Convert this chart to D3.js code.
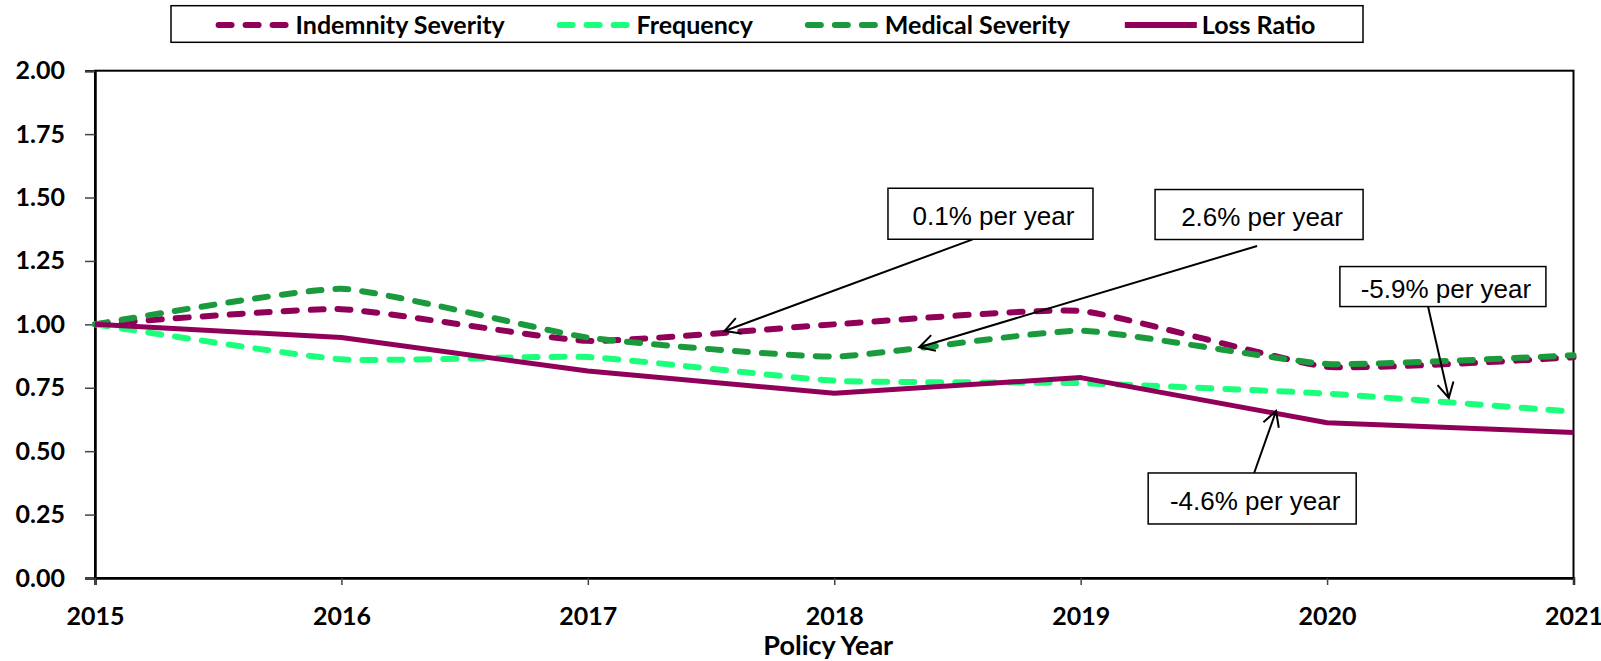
<!DOCTYPE html>
<html>
<head>
<meta charset="utf-8">
<script src="https://cdn.jsdelivr.net/npm/d3@7"></script>
<style>
  body { margin: 0; background: #fff; }
  svg { display: block; }
</style>
</head>
<body>
<div id="chart"></div>
<script>
// chart data
const years = [2015, 2016, 2017, 2018, 2019, 2020, 2021];
const indemnitySeverity = [1.00, 1.06, 0.935, 1.00, 1.053, 0.833, 0.87];
const frequency = [1.00, 0.862, 0.871, 0.778, 0.768, 0.727, 0.656];
const medicalSeverity = [1.00, 1.14, 0.948, 0.873, 0.975, 0.844, 0.878];
const lossRatio = [1.00, 0.948, 0.816, 0.728, 0.79, 0.612, 0.574];
const yTicks = [0, 0.25, 0.5, 0.75, 1, 1.25, 1.5, 1.75, 2];

// trend notes: box centre and arrow in data units
const noteLabels = ["0.1% per year", "2.6% per year", "-5.9% per year", "-4.6% per year"];
const noteBoxes = [[2018.634, 1.436], [2019.724, 1.433], [2020.47, 1.149], [2019.696, 0.3135]];
const noteArrowFrom = [[2018.562, 1.335], [2019.716, 1.309], [2020.409, 1.073], [2019.704, 0.414]];
const noteArrowTo = [[2017.555, 0.974], [2018.345, 0.910], [2020.494, 0.710], [2019.793, 0.6585]];

function createChart() {
    const W = 1601, H = 661;
    const margin = {top: 70.7, right: 27.5, bottom: 83, left: 95};
    const width = W - margin.left - margin.right;
    const height = H - margin.top - margin.bottom;
    const boldFont = "Lato, 'Open Sans', sans-serif";

    const svg = d3.select("#chart").append("svg")
        .attr("width", W)
        .attr("height", H);

    const g = svg.append("g")
        .attr("transform", `translate(${margin.left},${margin.top})`);

    const x = d3.scaleLinear().domain([2015, 2021]).range([0, width]);
    const y = d3.scaleLinear().domain([0, 2]).range([height, 0]);

    const smooth = d3.curveCardinal.tension(0.55);
    const series = [
        { name: "Indemnity Severity", values: indemnitySeverity, color: "#900058", dash: "13,14", w: 6, curve: smooth },
        { name: "Frequency", values: frequency, color: "#1cff7c", dash: "13,14", w: 6, curve: smooth },
        { name: "Medical Severity", values: medicalSeverity, color: "#1a9a3c", dash: "13,14", w: 6, curve: smooth },
        { name: "Loss Ratio", values: lossRatio, color: "#900058", dash: null, w: 5, curve: d3.curveLinear }
    ];

    // plot frame
    g.append("rect")
        .attr("width", width)
        .attr("height", height)
        .attr("fill", "none")
        .attr("stroke", "#000")
        .attr("stroke-width", 2);

    const yAxis = g.append("g")
        .call(d3.axisLeft(y).tickValues(yTicks).tickFormat(d3.format(".2f")).tickSize(10).tickPadding(20));
    const xAxis = g.append("g")
        .attr("transform", `translate(0,${height})`)
        .call(d3.axisBottom(x).tickValues(years).tickFormat(d3.format("d")).tickSize(7).tickPadding(22));

    [yAxis, xAxis].forEach(ax => {
        ax.select(".domain").attr("stroke", "#000").attr("stroke-width", 2.5);
        ax.selectAll(".tick line").attr("stroke", "#444").attr("stroke-width", 1.5);
        ax.selectAll(".tick text")
            .style("font-family", boldFont)
            .style("font-weight", "bold")
            .style("font-size", "25px")
            .attr("fill", "#000");
    });

    g.append("text")
        .attr("x", width / 2 - 6)
        .attr("y", height + 77)
        .attr("text-anchor", "middle")
        .style("font-family", boldFont)
        .style("font-weight", "bold")
        .style("font-size", "27px")
        .text("Policy Year");

    // lines
    series.forEach(s => {
        const line = d3.line()
            .x((d, i) => x(years[i]))
            .y(d => y(d))
            .curve(s.curve);
        g.append("path")
            .datum(s.values)
            .attr("d", line)
            .attr("fill", "none")
            .attr("stroke", s.color)
            .attr("stroke-width", s.w)
            .attr("stroke-linecap", s.dash ? "round" : "butt")
            .attr("stroke-linejoin", "round")
            .attr("stroke-dasharray", s.dash);
    });

    // notes with arrows
    const boxW = [205, 208, 206, 208];
    const boxH = [51, 50, 40, 51];
    noteLabels.forEach((label, i) => {
        const cx = x(noteBoxes[i][0]), cy = y(noteBoxes[i][1]);
        const x1 = x(noteArrowFrom[i][0]), y1 = y(noteArrowFrom[i][1]);
        const x2 = x(noteArrowTo[i][0]), y2 = y(noteArrowTo[i][1]);
        const ang = Math.atan2(y1 - y2, x1 - x2);
        const arm = 17, spread = 0.5;

        g.append("line")
            .attr("x1", x1).attr("y1", y1)
            .attr("x2", x2).attr("y2", y2)
            .attr("stroke", "#000")
            .attr("stroke-width", 2);
        g.append("path")
            .attr("d", `M${x2 + arm * Math.cos(ang - spread)},${y2 + arm * Math.sin(ang - spread)}L${x2},${y2}L${x2 + arm * Math.cos(ang + spread)},${y2 + arm * Math.sin(ang + spread)}`)
            .attr("fill", "none")
            .attr("stroke", "#000")
            .attr("stroke-width", 2);

        g.append("rect")
            .attr("x", cx - boxW[i] / 2)
            .attr("y", cy - boxH[i] / 2)
            .attr("width", boxW[i])
            .attr("height", boxH[i])
            .attr("fill", "#fff")
            .attr("stroke", "#000")
            .attr("stroke-width", 1.5);
        g.append("text")
            .attr("x", cx + 3)
            .attr("y", cy + 2)
            .attr("dy", "0.36em")
            .attr("text-anchor", "middle")
            .style("font-family", "'Liberation Sans', Arial, sans-serif")
            .style("font-size", "26px")
            .text(label);
    });

    // legend
    const legendBox = {x: 171, y: 5.7, w: 1192, h: 36.6};
    svg.append("rect")
        .attr("x", legendBox.x)
        .attr("y", legendBox.y)
        .attr("width", legendBox.w)
        .attr("height", legendBox.h)
        .attr("fill", "#fff")
        .attr("stroke", "#000")
        .attr("stroke-width", 1.5);

    const legend = svg.append("g");
    const items = legend.selectAll("g")
        .data(series)
        .enter()
        .append("g");

    items.append("line")
        .attr("x1", 0).attr("x2", 72)
        .attr("y1", 0).attr("y2", 0)
        .attr("stroke", d => d.color)
        .attr("stroke-width", 6)
        .attr("stroke-linecap", d => d.dash ? "round" : "butt")
        .attr("stroke-dasharray", d => d.dash);

    items.append("text")
        .attr("x", 77)
        .attr("dy", "0.36em")
        .style("font-family", boldFont)
        .style("font-weight", "bold")
        .style("font-size", "25px")
        .text(d => d.name);

    const widths = [];
    items.each(function() { widths.push(this.getBBox().width); });
    const gap = 54;
    const total = d3.sum(widths) + gap * (widths.length - 1);
    let pos = legendBox.x + (legendBox.w - total) / 2;
    items.attr("transform", (d, i) => {
        const t = `translate(${pos},${legendBox.y + legendBox.h / 2 + 1})`;
        pos += widths[i] + gap;
        return t;
    });
}

createChart();
</script>
</body>
</html>
